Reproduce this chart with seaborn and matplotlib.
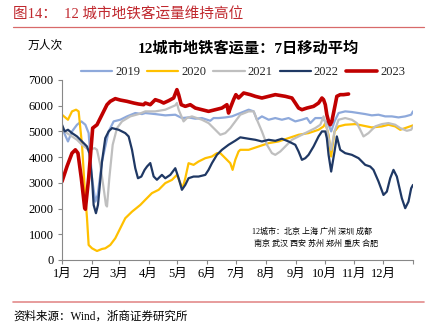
import matplotlib
matplotlib.use("Agg")
import matplotlib.pyplot as plt
import seaborn as sns
import pandas as pd
from matplotlib.lines import Line2D

sns.set_theme(style="white")
plt.rcParams['font.family'] = ['Liberation Serif', 'Noto Sans CJK SC', 'DejaVu Sans']

years = ["2019", "2020", "2021", "2022", "2023"]

days_2019 = [0, 6.2, 10.4, 15.6, 20.1, 24.3, 27.7, 31.2, 34.7, 37.1, 41.6, 48.5, 53.7, 60.6, 67.6, 76.2, 83.2,
             86.6, 97.0, 107.4, 117.8, 124.7, 131.6, 138.6, 145.5, 154.2, 157.6, 162.8, 169.8, 176.7, 185.4,
             194.1, 199.3, 202.7, 207.9, 214.9, 221.8, 228.7, 235.6, 242.6, 249.5, 254.7, 258.2, 263.4, 270.3,
             277.2, 279.9, 283.4, 287.6, 294.5, 301.4, 308.4, 315.3, 322.2, 329.1, 336.1, 343.0, 349.9, 356.9, 363.1, 365]
vals_2019 = [5130, 4610, 5000, 5260, 5390, 5260, 4935, 3180, 2270, 2530, 3830, 5000, 5390, 5455, 5585, 5715, 5675,
             5715, 5675, 5625, 5650, 5520, 5545, 5495, 5520, 5415, 5520, 5520, 5545, 5585, 5715,
             5845, 5780, 5455, 5585, 5455, 5520, 5455, 5520, 5390, 5455, 5520, 5325, 5520, 5520,
             5260, 5000, 5390, 5715, 5780, 5755, 5715, 5675, 5625, 5650, 5585, 5585, 5545, 5585, 5650, 5780]

days_2020 = [0, 6.2, 10.4, 14.6, 17.3, 20.8, 23.6, 26.0, 27.7, 31.2, 36.4, 41.6, 45.0, 50.2, 55.4, 60.6, 65.8, 72.8, 81.4,
             86.6, 93.5, 100.5, 107.4, 114.3, 119.5, 123.0, 125.4, 128.2, 131.6, 136.8, 142.0, 149.0, 155.9, 161.1,
             164.6, 169.8, 175.0, 177.4, 180.2, 183.6, 185.4,
             194.1, 204.5, 214.9, 225.2, 235.6, 246.0, 256.4, 266.8, 272.0, 273.8,
             277.2, 279.9, 283.4, 287.6, 294.5, 304.9, 311.8, 322.2, 332.6, 339.5, 346.5, 351.7, 356.9, 365]
vals_2020 = [5650, 5455, 5780, 5845, 5780, 4480, 2790, 1625, 585, 455, 350, 430, 455, 585, 845, 1235, 1625, 1880, 2140,
             2340, 2600, 2730, 2990, 3115, 3310, 2990, 2790, 3180, 3765, 3700, 3830, 3960, 4025, 4155,
             4155, 3960, 3765, 3505, 3895, 4220, 4285,
             4285, 4415, 4545, 4610, 4740, 4870, 4935, 5065, 5195, 5325,
             4870, 4025, 5000, 5195, 5260, 5285, 5235, 5155, 5195, 5260, 5195, 5065, 5130, 5235]

days_2021 = [0, 5.2, 10.4, 15.6, 20.8, 27.7, 34.0, 36.4, 39.8, 43.3, 45.7, 46.8, 49.2, 52.7, 57.2, 62.4, 71.0, 79.7,
             86.6, 97.0, 107.4, 117.8, 119.5, 121.3, 126.4, 129.9, 135.1, 145.5, 152.4, 159.4, 164.6, 169.8, 175.0, 180.2, 185.4,
             194.1, 199.3, 202.7, 207.9, 213.1, 218.3, 221.8, 227.0, 232.2, 239.1, 246.0, 253.0, 259.9, 263.4, 268.6, 272.0, 275.5,
             277.2, 279.9, 283.4, 287.6, 294.5, 301.4, 306.6, 310.1, 313.5, 318.7, 325.7, 332.6, 339.5, 346.5, 351.7, 358.6, 363.1, 365]
vals_2021 = [5065, 4935, 4805, 4675, 4480, 4285, 4350, 4285, 3700, 2790, 2140, 2080, 3180, 4480, 5130, 5390, 5585, 5675,
             5780, 5780, 5845, 6015, 6105, 5845, 5390, 5520, 5585, 5455, 5325, 5065, 4870, 4935, 5130, 5390, 5650,
             5780, 5780, 5455, 5000, 4480, 4155, 4090, 4220, 4415, 4675, 4805, 4935, 5065, 5130, 5260, 5585, 5130,
             4740, 4285, 5000, 5455, 5520, 5455, 5325, 5065, 4805, 4935, 5195, 5285, 5325, 5260, 5130, 5025, 5065, 5195]

days_2022 = [0, 2.8, 6.2, 10.4, 15.6, 20.8, 26.0, 28.4, 31.2, 32.9, 35.3, 37.4, 41.6, 45.0, 48.5, 52.0, 58.9, 65.8, 69.3,
             72.8, 76.2, 79.0, 82.5, 85.9,
             88.5, 91.8, 95.3, 98.7, 103.9, 107.4, 112.6, 117.8, 121.3, 124.7, 128.2, 131.6, 136.8, 142.0, 149.0, 152.4,
             155.9, 161.1, 166.3, 173.2, 180.2, 185.4,
             194.1, 201.0, 207.9, 214.9, 221.8, 228.7, 235.6, 242.6, 246.0, 249.5, 253.0, 256.4, 261.6, 266.8, 270.3, 273.8,
             275.4, 277.2, 279.9, 283.4, 285.8, 289.3, 294.5, 301.4, 308.4, 315.3, 320.5, 323.9, 329.1, 334.3, 337.8,
             341.3, 344.7, 348.2, 353.4, 356.9, 360.3, 363.1, 365]
vals_2022 = [5260, 5000, 5065, 4935, 4805, 4610, 4415, 4155, 3180, 2140, 1820, 2140, 3830, 4740, 5000, 5130, 5065, 4935, 4805,
             4285, 3570, 3180, 3245, 3505,
             3640, 3770, 3250, 3120, 3310, 3180, 3310, 3570, 3180, 2730, 2920, 3180, 3245, 3245, 3310, 3505,
             3765, 4090, 4285, 4480, 4640, 4770,
             4715, 4675, 4610, 4675, 4635, 4715, 4610, 4480, 4220, 3895, 3960, 4090, 4415, 4805, 5000, 5000,
             4740, 4091, 3440, 4220, 4805, 4285, 4155, 4090, 3960, 3700, 3635, 3505, 3055, 2530, 2660,
             3180, 3505, 3245, 2400, 2015, 2270, 2790, 2920]

days_2023 = [0, 5.2, 10.4, 13.9, 16.6, 20.1, 23.6, 24.3, 27.7, 31.9, 36.4, 41.6, 46.8, 50.2, 55.4, 60.6, 67.6, 74.5, 79.7, 84.9,
             86.6, 91.8, 97.0, 102.2, 105.7, 110.9, 116.1, 119.5, 121.3, 124.0, 128.2, 133.4, 138.6, 145.5, 152.4, 159.4,
             166.3, 171.5, 173.2, 175.0, 178.4, 180.8, 183.6, 185.4,
             188.9, 195.8, 201.0, 207.9, 214.9, 221.8, 232.2, 239.1, 242.6, 246.0, 249.5, 254.7, 261.6, 266.8, 270.3, 272.0, 273.8,
             275.4, 277.2, 278.9, 280.6, 284.1, 285.8, 289.3, 292.8, 298.0]
vals_2023 = [3050, 3640, 4155, 4285, 4155, 3180, 2015, 1975, 3180, 5130, 5260, 5650, 6040, 6170, 6275, 6220, 6170, 6105, 6065, 6040,
             6105, 6040, 6235, 6170, 6105, 6195, 6300, 6625, 6430, 6040, 5975, 6040, 5910, 5845, 5780, 5845,
             5910, 6040, 5715, 5910, 6235, 6430, 6300, 6365,
             6495, 6430, 6365, 6300, 6365, 6430, 6365, 6300, 6105, 5910, 5845, 5910, 5975, 6105, 6300, 6235, 6040,
             5650, 5390, 5260, 5390, 6040, 6365, 6430, 6430, 6455]

month_days = [0, 31, 59, 90, 120, 151, 181, 212, 243, 273, 304, 334, 365]
month_labels = ["1月", "2月", "3月", "4月", "5月", "6月", "7月", "8月", "9月", "10月", "11月", "12月", ""]
y_ticks = [0, 1000, 2000, 3000, 4000, 5000, 6000, 7000]

colors = {"2019": "#8EA9DB", "2020": "#FFC000", "2021": "#BFBFBF", "2022": "#1F3864", "2023": "#C00000"}
widths = {"2019": 1.6, "2020": 1.6, "2021": 1.6, "2022": 1.6, "2023": 2.6}

series = {"2019": (days_2019, vals_2019), "2020": (days_2020, vals_2020), "2021": (days_2021, vals_2021),
          "2022": (days_2022, vals_2022), "2023": (days_2023, vals_2023)}

fig = plt.figure(figsize=(4.35, 3.34), dpi=100)
ax = fig.add_axes([62/435, 1-260/334, (413-62)/435, (260-80)/334])

for y in years:
    d, v = series[y]
    df = pd.DataFrame({"day": d, "val": v})
    sns.lineplot(data=df, x="day", y="val", ax=ax, color=colors[y], linewidth=widths[y],
                 estimator=None, sort=False, legend=False)

ax.set_xlim(0, 365)
ax.set_ylim(0, 7000)
ax.set_xticks(month_days)
ax.set_xticklabels(month_labels, fontsize=9)
ax.set_yticks(y_ticks)
ax.set_yticklabels([str(t) for t in y_ticks], fontsize=9)
ax.set_xlabel("")
ax.set_ylabel("")
for s in ["top", "right"]:
    ax.spines[s].set_visible(False)
for s in ["left", "bottom"]:
    ax.spines[s].set_color("#888888")
    ax.spines[s].set_linewidth(0.8)
ax.tick_params(axis="both", which="major", direction="out", length=3, width=0.8, color="#888888",
               pad=3, labelcolor="#000000", left=True, bottom=True)

handles = [Line2D([0], [0], color=colors[y], linewidth=widths[y]) for y in years]
fig.legend(handles, years, loc="center", bbox_to_anchor=(243/435, 1-72/334), ncol=5, frameon=False,
           fontsize=9, handlelength=2.5, columnspacing=0.55, handletextpad=0.25, borderaxespad=0,
           borderpad=0)

fig.text(248/435, 1-48/334, "12城市地铁客运量：7日移动平均", ha="center", va="center", fontsize=11,
         fontweight="bold", color="#000000")
fig.text(28/435, 1-46/334, "万人次", ha="left", va="center", fontsize=8.5, color="#000000")

fig.text(13/435, 1-14/334, "图14：  12 城市地铁客运量维持高位", ha="left", va="center", fontsize=10.5,
         color="#C0282E")
fig.add_artist(Line2D([13/435, 424/435], [1-27/334, 1-27/334], color="#D86A6A", linewidth=0.9,
                      transform=fig.transFigure))
fig.add_artist(Line2D([13/435, 424/435], [1-302/334, 1-302/334], color="#E38B8B", linewidth=1.2,
                      transform=fig.transFigure))
fig.text(13/435, 1-317/334, "资料来源：Wind，浙商证券研究所", ha="left", va="center", fontsize=8.3, color="#000000")

ax.text(0.542, 0.158, "12城市：北京 上海 广州 深圳 成都", transform=ax.transAxes, fontsize=5.8,
        ha="left", va="center", color="#000000")
ax.text(0.547, 0.09, "南京 武汉 西安 苏州 郑州 重庆 合肥", transform=ax.transAxes, fontsize=5.8,
        ha="left", va="center", color="#000000")

fig.savefig("out.png", dpi=100, facecolor="white")
